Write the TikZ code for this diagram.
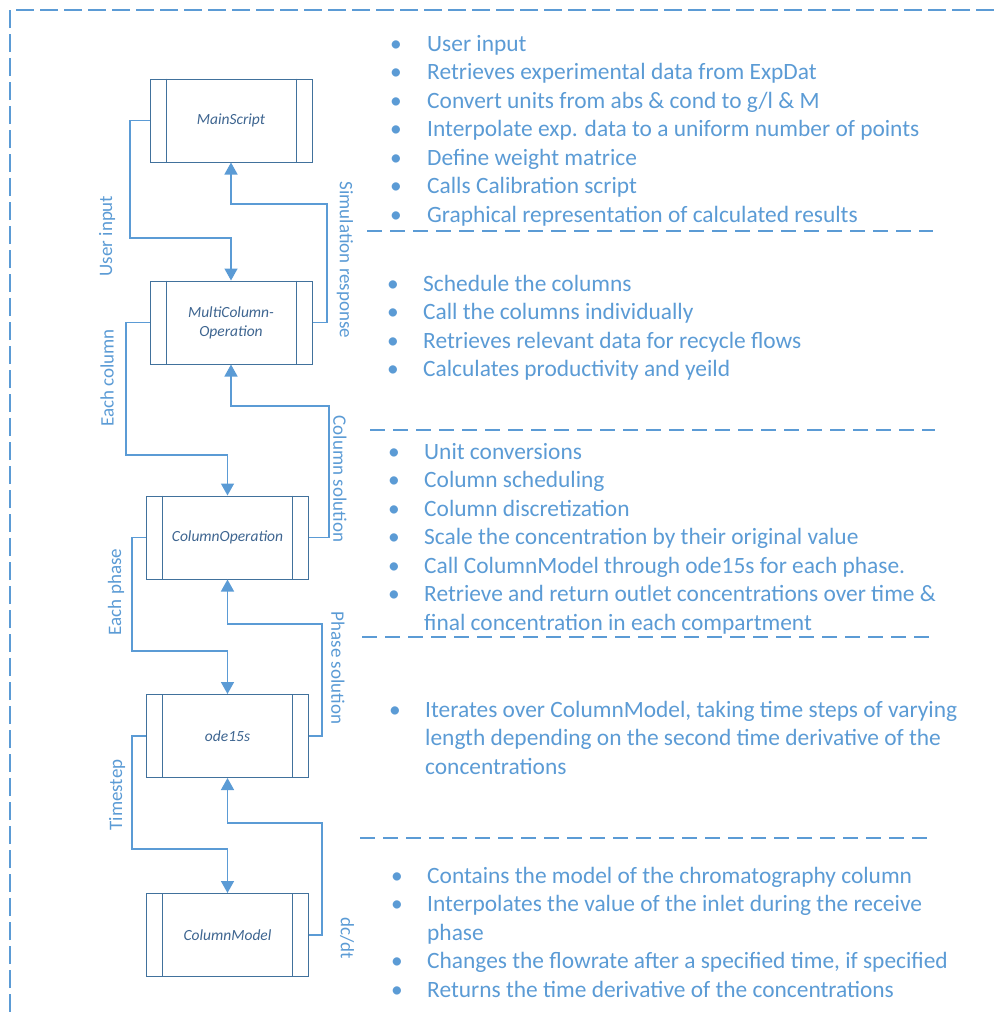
\documentclass[tikz,border=0pt]{standalone}
\usepackage{fontspec}
\setmainfont{Carlito}
\usetikzlibrary{arrows.meta}
\definecolor{lineblue}{HTML}{5B9BD5}
\definecolor{boxblue}{HTML}{41719C}
\definecolor{boxtext}{HTML}{3E6590}
\begin{document}
\begin{tikzpicture}[x=1pt,y=-1pt,
  procbox/.style={draw=boxblue, line width=1pt, rectangle, minimum width=162pt,
    minimum height=83pt, inner sep=0pt, text=boxtext,
    font=\fontsize{15.5}{19}\selectfont\itshape, align=center},
  conn/.style={draw=lineblue, line width=1.5pt, -{Triangle[length=12pt,width=13pt]}},
  lbl/.style={text=lineblue, font=\fontsize{19}{22}\selectfont, inner sep=0pt},
  item/.style={anchor=base west, inner sep=0pt, text=lineblue, font=\fontsize{23.4}{28.5}\selectfont},
  bul/.style={anchor=base, inner sep=0pt, text=lineblue, font=\fontsize{23.4}{28.5}\selectfont},
  sep/.style={draw=lineblue, line width=1.5pt, dash pattern=on 15pt off 8pt},
  frame/.style={draw=lineblue, line width=2pt, dash pattern=on 18pt off 6pt},
]
\useasboundingbox (0,0) rectangle (994,1012);

% outer dashed frame (top and left edges)
\draw[frame] (10,1012) -- (10,10) -- (994,10);

% process boxes
\node[procbox] (main)  at (231,120.5)   {MainScript};
\node[procbox] (multi) at (231,322.5)   {MultiColumn-\\Operation};
\node[procbox] (colop) at (227.5,537.5) {ColumnOperation};
\node[procbox] (ode)   at (227.5,736)   {ode15s};
\node[procbox] (model) at (227.5,935)   {ColumnModel};
\foreach \b in {main,multi,colop,ode,model}{
  \draw[boxblue, line width=1pt]
    ([xshift=16.5pt]\b.north west) -- ([xshift=16.5pt]\b.south west)
    ([xshift=-16.5pt]\b.north east) -- ([xshift=-16.5pt]\b.south east);
}

% connectors
\draw[conn] (main.west)  -| (130,238) -| (multi.north);
\draw[conn] (multi.east) -| (327,204) -| (main.south);
\draw[conn] (multi.west) -| (126,455) -| (colop.north);
\draw[conn] (colop.east) -| (329,406) -| (multi.south);
\draw[conn] (colop.west) -| (132,651) -| (ode.north);
\draw[conn] (ode.east)   -| (322,624) -| (colop.south);
\draw[conn] (ode.west)   -| (132,849) -| (model.north);
\draw[conn] (model.east) -| (322,823) -| (ode.south);

% connector labels
\node[lbl, rotate=90]  (lUser)  at (107,236) {User input};
\node[lbl, rotate=-90] (lSim)   at (345,260) {Simulation response};
\node[lbl, rotate=90]  (lEachC) at (107,378) {Each column};
\node[lbl, rotate=-90] (lColS)  at (340,479) {Column solution};
\node[lbl, rotate=90]  (lEachP) at (116,592) {Each phase};
\node[lbl, rotate=-90] (lPhS)   at (338,668) {Phase solution};
\node[lbl, rotate=90]  (lTime)  at (117,795) {Timestep};
\node[lbl, rotate=-90] (lDcdt)  at (347,938) {dc/dt};

% separators
\draw[sep] (367,231) -- (933,231);
\draw[sep] (370,430) -- (935,430);
\draw[sep] (362,637) -- (932,637);
\draw[sep] (360,838) -- (928,838);

% MainScript tasks
\foreach \y in {51,79.5,108,136.5,165,193.5,222} \node[bul] at (396,\y) {\textbullet};
\node[item] (a1) at (427,51)    {User input};
\node[item] (a2) at (427,79.5)  {Retrieves experimental data from ExpDat};
\node[item] (a3) at (427,108)   {Convert units from abs \& cond to g/l \& M};
\node[item] (a4) at (427,136.5) {Interpolate exp. data to a uniform number of points};
\node[item] (a5) at (427,165)   {Define weight matrice};
\node[item] (a6) at (427,193.5) {Calls Calibration script};
\node[item] (a7) at (427,222)   {Graphical representation of calculated results};

% MultiColumnOperation tasks
\foreach \y in {291,319.5,348,376.5} \node[bul] at (393,\y) {\textbullet};
\node[item] (b1) at (423,291)   {Schedule the columns};
\node[item] (b2) at (423,319.5) {Call the columns individually};
\node[item] (b3) at (423,348)   {Retrieves relevant data for recycle flows};
\node[item] (b4) at (423,376.5) {Calculates productivity and yeild};

% ColumnOperation tasks
\foreach \y in {459,487.5,516,544.5,573,601.5} \node[bul] at (394,\y) {\textbullet};
\node[item] (c1) at (424,459)   {Unit conversions};
\node[item] (c2) at (424,487.5) {Column scheduling};
\node[item] (c3) at (424,516)   {Column discretization};
\node[item] (c4) at (424,544.5) {Scale the concentration by their original value};
\node[item] (c5) at (424,573)   {Call ColumnModel through ode15s for each phase.};
\node[item] (c6) at (424,601.5) {Retrieve and return outlet concentrations over time \&};
\node[item] (c7) at (424,630)   {final concentration in each compartment};

% ode15s tasks
\node[bul] at (395,717) {\textbullet};
\node[item] (d1) at (425,717)   {Iterates over ColumnModel, taking time steps of varying};
\node[item] (d2) at (425,745.5) {length depending on the second time derivative of the};
\node[item] (d3) at (425,774)   {concentrations};

% ColumnModel tasks
\foreach \y in {883,911.5,968.5,997} \node[bul] at (397,\y) {\textbullet};
\node[item] (e1) at (427,883)   {Contains the model of the chromatography column};
\node[item] (e2) at (427,911.5) {Interpolates the value of the inlet during the receive};
\node[item] (e3) at (427,940)   {phase};
\node[item] (e4) at (427,968.5) {Changes the flowrate after a specified time, if specified};
\node[item] (e5) at (427,997)   {Returns the time derivative of the concentrations};
\end{tikzpicture}
\end{document}
